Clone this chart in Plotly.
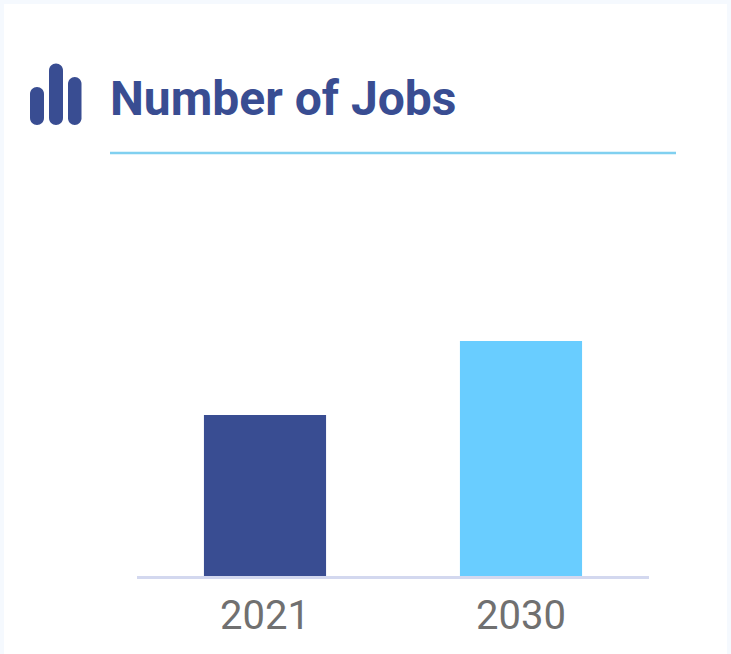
import plotly.graph_objects as go

categories = ["2021", "2030"]
values = [161, 235]
bar_colors = ["#394d92", "#69cdff"]
title_text = "Number of Jobs"

W, H = 731, 654
L, R, T, B = 137, 82, 200, 78
PW, PH = W - L - R, H - T - B


def px(x):
    return (x - L) / PW


def py(y):
    return 1 - (y - T) / PH


def pill(x0, x1, y0, y1):
    r = (x1 - x0) / 2
    k = r * 0.55
    pts = [
        f"M{px(x0)},{py(y0 + r)}",
        f"C{px(x0)},{py(y0 + r - k)} {px(x0 + r - k)},{py(y0)} {px(x0 + r)},{py(y0)}",
        f"C{px(x0 + r + k)},{py(y0)} {px(x1)},{py(y0 + r - k)} {px(x1)},{py(y0 + r)}",
        f"L{px(x1)},{py(y1 - r)}",
        f"C{px(x1)},{py(y1 - r + k)} {px(x1 - r + k)},{py(y1)} {px(x1 - r)},{py(y1)}",
        f"C{px(x0 + r - k)},{py(y1)} {px(x0)},{py(y1 - r + k)} {px(x0)},{py(y1 - r)}",
        "Z",
    ]
    return dict(type="path", xref="paper", yref="paper", path=" ".join(pts),
                fillcolor="#394d92", line=dict(width=0), layer="above")


fig = go.Figure(go.Bar(x=categories, y=values, marker=dict(color=bar_colors, line=dict(width=0)), width=0.477,
                       hoverinfo="skip"))

shapes = [
    dict(type="rect", xref="paper", yref="paper", x0=px(0), x1=px(W), y0=py(0), y1=py(H),
         fillcolor="#f5f9fe", line=dict(width=0), layer="below"),
    dict(type="rect", xref="paper", yref="paper", x0=px(4), x1=px(727), y0=py(4), y1=py(H),
         fillcolor="#ffffff", line=dict(width=0), layer="below"),
    pill(30, 44, 87, 125),
    pill(49, 63, 63.5, 125),
    pill(68, 81.5, 77, 125),
    dict(type="line", xref="paper", yref="paper", x0=px(110), x1=px(676), y0=py(153), y1=py(153),
         line=dict(color="#80d0f0", width=2.5)),
]

fig.update_layout(
    width=W, height=H,
    margin=dict(l=L, r=R, t=T, b=B, pad=0),
    paper_bgcolor="#ffffff", plot_bgcolor="rgba(0,0,0,0)",
    showlegend=False, shapes=shapes,
    annotations=[dict(text=f"<b>{title_text}</b>", xref="paper", yref="paper", x=px(107.5), y=py(98),
                      xanchor="left", yanchor="middle", showarrow=False,
                      font=dict(family="Roboto", size=48, color="#394d92"))],
    xaxis=dict(type="category", showgrid=False, zeroline=False, showline=True, linecolor="#d3d8ef", linewidth=2.5,
               ticks="outside", ticklen=2, tickcolor="rgba(0,0,0,0)",
               tickfont=dict(family="Roboto", size=40, color="#707070")),
    yaxis=dict(range=[0, PH], visible=False, showgrid=False, zeroline=False),
)
fig.write_html("out.html", config=dict(displayModeBar=False), post_script="document.body.style.margin='0';")
